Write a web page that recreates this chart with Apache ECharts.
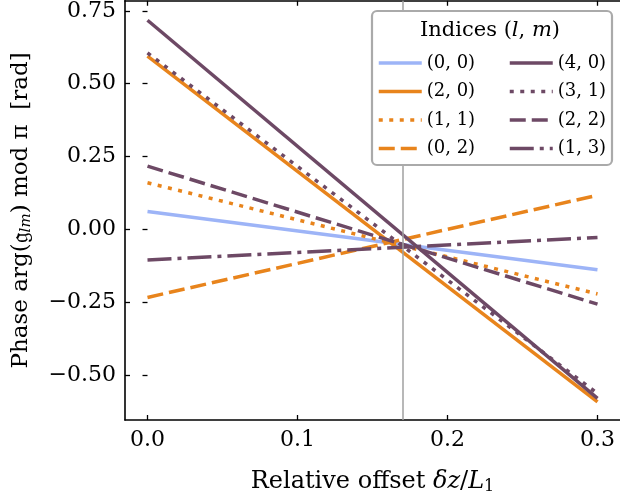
<!DOCTYPE html>
<html><head><meta charset="utf-8">
<script src="https://cdn.jsdelivr.net/npm/echarts@6/dist/echarts.min.js"></script>
<style>html,body{margin:0;padding:0;background:#fff}#c{width:620px;height:500px}</style>
</head><body><div id="c"></div>
<script>
// data
const xValues = [0, 0.3];
const seriesNames = ['(0, 0)', '(2, 0)', '(1, 1)', '(0, 2)', '(4, 0)', '(3, 1)', '(2, 2)', '(1, 3)'];
const s00 = [0.061, -0.139];
const s20 = [0.595, -0.593];
const s11 = [0.160, -0.222];
const s02 = [-0.234, 0.117];
const s40 = [0.718, -0.581];
const s31 = [0.606, -0.564];
const s22 = [0.217, -0.257];
const s13 = [-0.105, -0.028];
const xTicks = [0, 0.1, 0.2, 0.3];
const yTicks = [-0.5, -0.25, 0, 0.25, 0.5, 0.75];
const markerX = 0.1714;

const BLUE = '#9db4f7', ORANGE = '#e8841c', PURPLE = '#6d4965';
const FONT = 'DejaVu Serif';
const styles = [
  {c: BLUE, t: 'solid'}, {c: ORANGE, t: 'solid'}, {c: ORANGE, t: [4, 6.5]}, {c: ORANGE, t: [16, 6]},
  {c: PURPLE, t: 'solid'}, {c: PURPLE, t: [4, 6.5]}, {c: PURPLE, t: [16, 6]}, {c: PURPLE, t: [24, 6, 4, 6]}
];
const values = [s00, s20, s11, s02, s40, s31, s22, s13];

const series = values.map((v, i) => ({
  name: seriesNames[i], type: 'line', symbol: 'none', silent: true,
  data: xValues.map((x, j) => [x, v[j]]),
  lineStyle: {color: styles[i].c, width: 3.5, type: styles[i].t, cap: 'butt'},
  itemStyle: {color: styles[i].c},
  z: 2
}));
series.push({
  type: 'line', data: [], silent: true,
  markLine: {silent: true, symbol: 'none', label: {show: false},
    lineStyle: {color: '#a0a0a0', width: 1.5, type: 'solid'},
    data: [{xAxis: markerX}]},
  z: 1
});

const fmtY = v => { const s = Math.abs(v).toFixed(2); return (v < -1e-9 ? '\u2212' : '') + s; };
const fmtX = v => v.toFixed(1);
const axisLineStyle = {show: true, onZero: false, lineStyle: {color: '#000', width: 1.6}};
const tickStyle = {inside: true, length: 5, lineStyle: {color: '#000', width: 1.3}};

const legendCommon = {
  orient: 'vertical', padding: 0, itemWidth: 43, itemHeight: 14, itemGap: 10.5,
  itemStyle: {opacity: 0, borderWidth: 0},
  lineStyle: {width: 3.5},
  textStyle: {fontFamily: FONT, fontSize: 18, color: '#000'}, z: 10, selectedMode: false
};

const option = {
  animation: false,
  backgroundColor: '#fff',
  grid: {left: 125, top: 0.5, width: 497.5, height: 421},
  xAxis: [
    {type: 'value', min: -0.015, max: 0.315, position: 'bottom',
     name: 'Relative offset {it|\u03b4z}/{it|L}{sub|1}', nameLocation: 'middle', nameGap: 49,
     nameTextStyle: {fontFamily: FONT, fontSize: 24, color: '#000',
       rich: {it: {fontFamily: FONT, fontSize: 24, fontStyle: 'italic'},
              sub: {fontFamily: FONT, fontSize: 16, verticalAlign: 'bottom', padding: [10, 0, 0, 0]}}},
     axisLine: axisLineStyle, splitLine: {show: false},
     axisTick: Object.assign({customValues: xTicks}, tickStyle),
     axisLabel: {customValues: xTicks, formatter: fmtX, margin: 9, fontFamily: FONT, fontSize: 22, color: '#000'}},
    {type: 'value', min: -0.015, max: 0.315, position: 'top',
     axisLine: axisLineStyle, splitLine: {show: false},
     axisTick: Object.assign({customValues: xTicks}, tickStyle),
     axisLabel: {show: false}}
  ],
  yAxis: [
    {type: 'value', min: -0.655, max: 0.785, position: 'left',
     name: 'Phase arg({fr|\ud835\udd24}{sub|lm}) mod \u03c0  [rad]', nameLocation: 'middle', nameGap: 91, nameRotate: 90,
     nameTextStyle: {fontFamily: FONT, fontSize: 23, color: '#000',
       rich: {fr: {fontFamily: 'DejaVu Sans', fontSize: 24},
              sub: {fontFamily: FONT, fontSize: 15, fontStyle: 'italic', verticalAlign: 'bottom', padding: [10, 0, 0, 0]}}},
     axisLine: axisLineStyle, splitLine: {show: false},
     axisTick: Object.assign({customValues: yTicks}, tickStyle),
     axisLabel: {customValues: yTicks, formatter: fmtY, margin: 9, fontFamily: FONT, fontSize: 22, color: '#000'}},
    {type: 'value', min: -0.655, max: 0.785, position: 'right',
     axisLine: {show: false}, splitLine: {show: false},
     axisTick: Object.assign({customValues: yTicks}, tickStyle),
     axisLabel: {show: false}}
  ],
  legend: [
    Object.assign({left: 377, top: 54, data: seriesNames.slice(0, 4)}, legendCommon),
    Object.assign({left: 508, top: 54, data: seriesNames.slice(4)}, legendCommon)
  ],
  graphic: [
    {type: 'rect', shape: {x: 372, y: 11, width: 240, height: 154, r: 5},
     style: {fill: '#fff', stroke: '#aaaaaa', lineWidth: 2.2}, z: 8, silent: true},
    {type: 'text', x: 490, y: 31, z: 9, silent: true,
     style: {text: 'Indices ({it|l}, {it|m})', fontFamily: FONT, fontSize: 21, fill: '#000',
       align: 'center', verticalAlign: 'middle',
       rich: {it: {fontFamily: FONT, fontSize: 21, fontStyle: 'italic', fill: '#000'}}}}
  ],
  series: series
};
const chart = echarts.init(document.getElementById('c'), null, {renderer: 'canvas'});
chart.setOption(option);
</script></body></html>
